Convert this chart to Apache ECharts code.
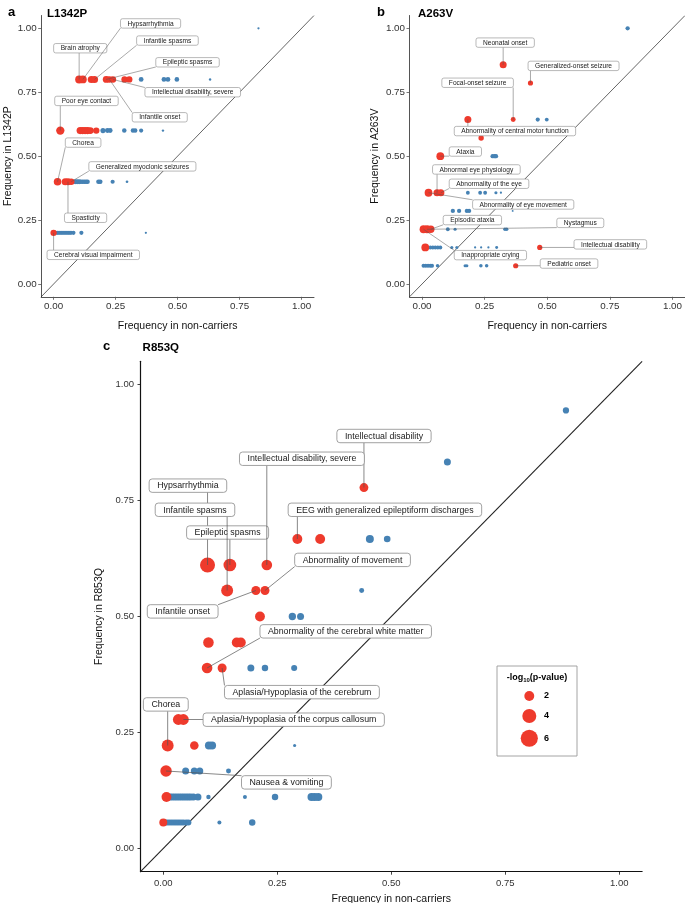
<!DOCTYPE html>
<html><head><meta charset="utf-8">
<script src="https://cdn.jsdelivr.net/npm/echarts@6/dist/echarts.min.js"></script>
<style>html,body{margin:0;padding:0;background:#fff}#c{width:685px;height:903px}</style>
</head><body><div id="c"></div>
<script>
// ================= DATA =================
const tickValues = [0, 0.25, 0.5, 0.75, 1];
const panelLetters = ['a', 'b', 'c'];
const panelTitles = ['L1342P', 'A263V', 'R853Q'];
const yAxisTitles = ['Frequency in L1342P', 'Frequency in A263V', 'Frequency in R853Q'];
const xAxisTitle = 'Frequency in non-carriers';
const legendValues = [2, 4, 6];

// Panel a (L1342P): red = significant, blue = not; p = -log10(p-value)
const aRedX = [0.103,0.118,0.152,0.165,0.212,0.225,0.239,0.286,0.305, 0.027,0.107,0.117,0.127,0.137,0.148,0.172, 0.016,0.047,0.058,0.071, 0.0];
const aRedY = [0.8,0.8,0.8,0.8,0.8,0.8,0.8,0.8,0.8, 0.6,0.6,0.6,0.6,0.6,0.6,0.6, 0.4,0.4,0.4,0.4, 0.2];
const aRedP = [4.4,4.2,3.5,3.5,3.2,3.0,3.0,2.8,2.8, 4.8,3.5,3.5,3.5,3.5,3.2,2.8, 4.0,3.5,3.5,3.0, 2.8];
const aBlueX = [0.353,0.445,0.461,0.497,0.631, 0.826, 0.199,0.217,0.228,0.285,0.320,0.329,0.353,0.441,
  0.087,0.095,0.103,0.110,0.117,0.124,0.131,0.137,0.181,0.188,0.238,0.296,
  0.007,0.015,0.022,0.030,0.038,0.046,0.054,0.062,0.070,0.080,0.112,0.372];
const aBlueY = [0.8,0.8,0.8,0.8,0.8, 1.0, 0.6,0.6,0.6,0.6,0.6,0.6,0.6,0.6,
  0.4,0.4,0.4,0.4,0.4,0.4,0.4,0.4,0.4,0.4,0.4,0.4,
  0.2,0.2,0.2,0.2,0.2,0.2,0.2,0.2,0.2,0.2,0.2,0.2];
const aBlueP = [1.6,1.6,1.6,1.5,0.4, 0.35, 1.8,1.7,1.7,1.4,1.4,1.4,1.2,0.4,
  1.6,1.6,1.6,1.5,1.5,1.5,1.4,1.4,1.5,1.5,1.2,0.5,
  1.2,1.2,1.2,1.2,1.2,1.2,1.2,1.2,1.2,1.2,1.2,0.35];
const aLabelNames = ['Brain atrophy','Hypsarrhythmia','Infantile spasms','Epileptic spasms','Infantile onset',
  'Intellectual disability, severe','Poor eye contact','Chorea','Spasticity','Generalized myoclonic seizures','Cerebral visual impairment'];
const aLabelPoint = [0,1,3,4,5,6,9,16,18,19,20];   // index into the red arrays

// Panel b (A263V)
const bRedX = [0.324,0.433,0.183,0.364,0.236,0.073,0.026,0.060,0.075,0.006,0.020,0.035,0.013,0.470,0.374];
const bRedY = [0.857,0.786,0.643,0.643,0.571,0.5,0.357,0.357,0.357,0.214,0.214,0.214,0.143,0.143,0.0714];
const bRedP = [4.0,2.2,4.0,2.0,2.4,5.0,5.0,4.2,4.2,5.0,5.0,4.5,5.0,2.2,2.2];
const bBlueX = [0.821, 0.462,0.498, 0.282,0.290,0.295, 0.183,0.232,0.252,0.295,0.315, 0.123,0.148,0.179,0.188,0.362,
  0.103,0.132,0.331,0.338, 0.033,0.043,0.053,0.063,0.073,0.119,0.139,0.212,0.236,0.265,0.298,
  0.006,0.015,0.024,0.033,0.040,0.062,0.172,0.179,0.235,0.258];
const bBlueY = [1.0, 0.643,0.643, 0.5,0.5,0.5, 0.357,0.357,0.357,0.357,0.357, 0.286,0.286,0.286,0.286,0.286,
  0.214,0.214,0.214,0.214, 0.143,0.143,0.143,0.143,0.143,0.143,0.143,0.143,0.143,0.143,0.143,
  0.0714,0.0714,0.0714,0.0714,0.0714,0.0714,0.0714,0.0714,0.0714,0.0714];
const bBlueP = [1.5, 1.4,1.2, 1.6,1.6,1.6, 1.2,1.2,1.2,0.8,0.4, 1.5,1.5,1.5,1.5,0.3,
  1.2,0.8,1.0,1.0, 1.3,1.3,1.3,1.3,1.3,0.8,0.8,0.4,0.4,0.4,0.7,
  1.3,1.3,1.3,1.3,1.3,1.0,0.8,0.8,1.0,1.0];
const bLabelNames = ['Neonatal onset','Generalized-onset seizure','Abnormality of central motor function','Focal-onset seizure',
  'Ataxia','Abnormality of eye movement','Abnormal eye physiology','Abnormality of the eye','Inappropriate crying',
  'Nystagmus','Episodic ataxia','Intellectual disability','Pediatric onset'];
const bLabelPoint = [0,1,2,3,5,6,7,8,9,10,11,13,14];

// Panel c (R853Q)
const cRedX = [0.440, 0.294,0.344, 0.097,0.146,0.227, 0.140,0.203,0.223, 0.212, 0.099,0.161,0.170, 0.096,0.129, 0.033,0.044, 0.0096,0.068, 0.006, 0.007, 0.0];
const cRedY = [0.778, 0.667,0.667, 0.611,0.611,0.611, 0.556,0.556,0.556, 0.5, 0.444,0.444,0.444, 0.389,0.389, 0.278,0.278, 0.222,0.222, 0.167, 0.111, 0.056];
const cRedP = [1.6, 2.0,2.0, 4.6,3.3,2.3, 2.9,1.65,1.65, 2.0, 2.3,2.0,2.0, 2.3,1.65, 2.4,2.4, 2.9,1.5, 2.7, 2.0, 1.3];
const cBlueX = [0.883, 0.623, 0.453,0.491, 0.435, 0.283,0.301, 0.192,0.223,0.287, 0.100,0.107,0.288, 0.049,0.068,0.080,0.143,
  0.015,0.020,0.025,0.030,0.035,0.040,0.045,0.050,0.055,0.060,0.066,0.076,0.099,0.179,0.245,0.325,0.332,0.340,
  0.004,0.009,0.014,0.019,0.024,0.029,0.034,0.039,0.044,0.050,0.055,0.123,0.195];
const cBlueY = [0.944, 0.833, 0.667,0.667, 0.556, 0.5,0.5, 0.389,0.389,0.389, 0.222,0.222,0.222, 0.167,0.167,0.167,0.167,
  0.111,0.111,0.111,0.111,0.111,0.111,0.111,0.111,0.111,0.111,0.111,0.111,0.111,0.111,0.111,0.111,0.111,0.111,
  0.056,0.056,0.056,0.056,0.056,0.056,0.056,0.056,0.056,0.056,0.056,0.056,0.056];
const cBlueP = [0.8, 1.0, 1.3,0.9, 0.5, 1.1,1.0, 1.0,0.85,0.75, 1.3,1.3,0.2, 1.0,1.0,1.0,0.5,
  1.0,1.0,1.0,1.0,1.0,1.0,1.0,1.0,1.0,1.0,1.0,1.0,0.4,0.33,0.85,1.3,1.3,1.3,
  0.75,0.75,0.75,0.75,0.75,0.75,0.75,0.75,0.75,0.75,0.75,0.33,0.85];
const cLabelNames = ['Intellectual disability','EEG with generalized epileptiform discharges','Hypsarrhythmia','Epileptic spasms',
  'Intellectual disability, severe','Infantile spasms','Infantile onset','Abnormality of movement',
  'Abnormality of the cerebral white matter','Aplasia/Hypoplasia of the cerebrum','Aplasia/Hypoplasia of the corpus callosum',
  'Chorea','Nausea & vomiting'];
const cLabelPoint = [0,1,3,4,5,6,7,8,13,14,16,17,19];

// ================= LAYOUT (label box centres, in axis units, as placed by the repel layout) =================
const aLabelAt = [[0.1075,0.922],[0.391,1.019],[0.459,0.952],[0.540,0.867],[0.428,0.652],[0.561,0.750],[0.1325,0.716],[0.119,0.553],[0.129,0.259],[0.358,0.460],[0.160,0.114]];
const bLabelAt = [[0.332,0.944],[0.605,0.853],[0.371,0.598],[0.222,0.787],[0.173,0.518],[0.404,0.311],[0.217,0.448],[0.2675,0.392],[0.273,0.113],[0.632,0.239],[0.201,0.250],[0.752,0.155],[0.587,0.080]];
const cLabelAt = [[0.484,0.889],[0.486,0.730],[0.054,0.782],[0.141,0.681],[0.304,0.840],[0.0695,0.730],[0.0425,0.511],[0.415,0.622],[0.400,0.468],[0.304,0.337],[0.286,0.2776],[0.0055,0.3105],[0.270,0.1425]];

const FONT = '"Liberation Sans", Arial, Helvetica, sans-serif';
const RED = '#ee3a2c', BLUE = '#4682b4';

const panels = [
  { grid:{left:41.2, top:15.5, width:272.8, height:281.3}, k:3.8,
    red:[aRedX,aRedY,aRedP], blue:[aBlueX,aBlueY,aBlueP], names:aLabelNames, pts:aLabelPoint, at:aLabelAt,
    fs:6.6, padX:7, padY:0.9, r:2, boxW:0.6, lineW:0.5, tickFs:9.8, axisColor:'#555', axisW:1, diagW:0.7,
    yGap:28, xGap:14, labMargin:4.5, nameFs:10.5 },
  { grid:{left:409.5, top:15.5, width:275.5, height:281.3}, k:3.5,
    red:[bRedX,bRedY,bRedP], blue:[bBlueX,bBlueY,bBlueP], names:bLabelNames, pts:bLabelPoint, at:bLabelAt,
    fs:6.6, padX:7, padY:0.9, r:2, boxW:0.6, lineW:0.5, tickFs:9.8, axisColor:'#555', axisW:1, diagW:0.7,
    yGap:29, xGap:14, labMargin:4.5, nameFs:10.5 },
  { grid:{left:140.5, top:361.3, width:501.6, height:510.4}, k:7,
    red:[cRedX,cRedY,cRedP], blue:[cBlueX,cBlueY,cBlueP], names:cLabelNames, pts:cLabelPoint, at:cLabelAt,
    fs:8.8, padX:8, padY:1.8, r:3, boxW:0.8, lineW:0.7, tickFs:9.5, axisColor:'#111', axisW:1.2, diagW:1.1,
    yGap:32, xGap:12, labMargin:6.5, nameFs:10.5 }
];

const mctx = document.createElement('canvas').getContext('2d');
function textW(t, fs) { mctx.font = fs + 'px ' + FONT; return mctx.measureText(t).width; }
function clamp(v, a, b) { return Math.max(a, Math.min(b, v)); }
function pts(arr) { return arr[0].map((x, i) => [x, arr[1][i], arr[2][i]]); }

const option = {
  animation: false,
  textStyle: { fontFamily: FONT },
  title: [], grid: [], xAxis: [], yAxis: [], series: [], graphic: []
};

const titlePos = [[3, 1, 42, 3], [372, 1, 413, 3], [98, 335, 137.6, 337]];
panels.forEach((P, pi) => {
  option.title.push({ text: panelLetters[pi], left: titlePos[pi][0], top: titlePos[pi][1],
    textStyle: { fontSize: 13, fontWeight: 'bold', color: '#000', fontFamily: FONT } });
  option.title.push({ text: panelTitles[pi], left: titlePos[pi][2], top: titlePos[pi][3],
    textStyle: { fontSize: 11.5, fontWeight: 'bold', color: '#000', fontFamily: FONT } });
  option.grid.push(Object.assign({ containLabel: false, outerBoundsMode: 'none' }, P.grid));
  const axisCommon = {
    type: 'value', min: -0.05, max: 1.05, gridIndex: pi,
    axisLine: { show: true, onZero: false, lineStyle: { color: P.axisColor, width: P.axisW } },
    axisTick: { show: true, length: 3, lineStyle: { color: P.axisColor, width: 0.8 }, customValues: tickValues },
    axisLabel: { customValues: tickValues, fontSize: P.tickFs, color: '#333', margin: P.labMargin,
      formatter: v => v.toFixed(2) },
    splitLine: { show: false },
    nameLocation: 'middle',
    nameTextStyle: { fontSize: P.nameFs, color: '#111', fontFamily: FONT }
  };
  option.xAxis.push(Object.assign({}, axisCommon, { name: xAxisTitle, nameGap: P.xGap + P.tickFs }));
  option.yAxis.push(Object.assign({}, axisCommon, { name: yAxisTitles[pi], nameGap: P.yGap }));

  // identity reference line y = x across the full panel range
  option.series.push({ type: 'line', xAxisIndex: pi, yAxisIndex: pi, silent: true, symbol: 'none', z: 1,
    data: [[-0.05, -0.05], [1.05, 1.05]], lineStyle: { color: '#222', width: P.diagW } });

  const sizeFn = v => P.k * Math.sqrt(v[2]);
  option.series.push({ type: 'scatter', xAxisIndex: pi, yAxisIndex: pi, z: 2, data: pts(P.blue),
    symbolSize: sizeFn, itemStyle: { color: BLUE, opacity: 1 } });
  option.series.push({ type: 'scatter', xAxisIndex: pi, yAxisIndex: pi, z: 3, data: pts(P.red),
    symbolSize: sizeFn, itemStyle: { color: RED, opacity: 1 } });

  const labData = P.pts.map((ri, j) => [P.red[0][ri], P.red[1][ri], P.at[j][0], P.at[j][1]]);
  option.series.push({ type: 'custom', xAxisIndex: pi, yAxisIndex: pi, z: 5, silent: true, clip: false,
    data: labData, encode: { x: [0, 2], y: [1, 3] },
    renderItem: function (params, api) {
      const name = P.names[params.dataIndex];
      const p = api.coord([api.value(0), api.value(1)]);
      const c = api.coord([api.value(2), api.value(3)]);
      const w = textW(name, P.fs) + 2 * P.padX, h = P.fs + 2 * P.padY + 1;
      const x0 = c[0] - w / 2, y0 = c[1] - h / 2;
      const qx = clamp(p[0], x0, x0 + w), qy = clamp(p[1], y0, y0 + h);
      return { type: 'group', children: [
        { type: 'line', shape: { x1: p[0], y1: p[1], x2: qx, y2: qy }, style: { stroke: '#555', lineWidth: P.lineW } },
        { type: 'rect', shape: { x: x0, y: y0, width: w, height: h, r: P.r }, style: { fill: '#fff', stroke: '#8a8a8a', lineWidth: P.boxW } },
        { type: 'text', style: { text: name, x: c[0], y: c[1] + 0.3, align: 'center', verticalAlign: 'middle',
          textAlign: 'center', textVerticalAlign: 'middle', fontSize: P.fs, fontFamily: FONT, fill: '#1a1a1a' } }
      ] };
    } });
});

// size legend (panel c)
const Pc = panels[2];
const lg = { x: 497, y: 666, w: 80, h: 90, cx: 529.3, tx: 544, rows: [696, 716, 738.3] };
option.graphic.push({ type: 'rect', shape: { x: lg.x, y: lg.y, width: lg.w, height: lg.h },
  style: { fill: '#fff', stroke: '#9a9a9a', lineWidth: 0.9 }, z: 10 });
option.graphic.push({ type: 'text', x: lg.x + lg.w / 2, y: 677.5, z: 11,
  style: { text: '{b|-log}{s|10}{b|(p-value)}', align: 'center', verticalAlign: 'middle',
    rich: { b: { fontSize: 9, fontWeight: 'bold', fontFamily: FONT, fill: '#000' },
            s: { fontSize: 6, fontWeight: 'bold', fontFamily: FONT, fill: '#000', padding: [5, 0, 0, 0] } } } });
legendValues.forEach((v, i) => {
  option.graphic.push({ type: 'circle', z: 11, shape: { cx: lg.cx, cy: lg.rows[i], r: Pc.k * Math.sqrt(v) / 2 }, style: { fill: RED } });
  option.graphic.push({ type: 'text', z: 11, x: lg.tx, y: lg.rows[i],
    style: { text: String(v), fontSize: 9, fontWeight: 'bold', fontFamily: FONT, fill: '#000', align: 'left', verticalAlign: 'middle' } });
});

const chart = echarts.init(document.getElementById('c'), null, { renderer: 'canvas' });
chart.setOption(option);
</script>
</body></html>
